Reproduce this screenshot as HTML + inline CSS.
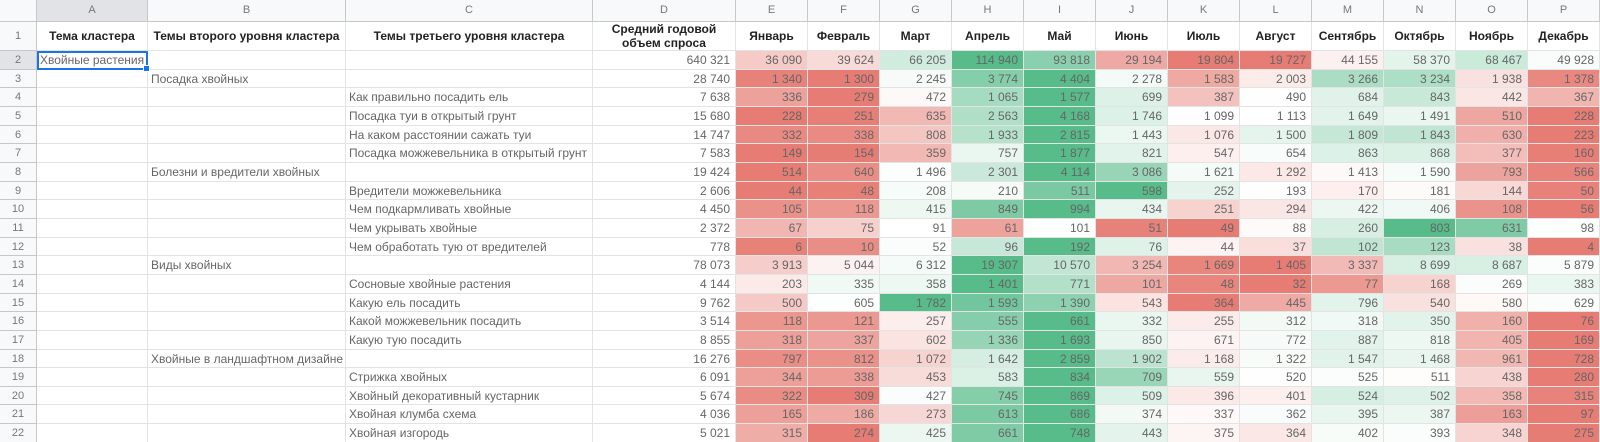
<!DOCTYPE html>
<html><head><meta charset="utf-8">
<style>
html,body{margin:0;padding:0;background:#fff;width:1600px;height:442px;overflow:hidden}
.g{display:grid;grid-template-columns:37px 111px 198px 247px 143px repeat(12,72px);grid-template-rows:22px 29px repeat(21,18.67px);font-family:"Liberation Sans","DejaVu Sans",sans-serif;font-size:12px;color:#666;position:relative}
.g>div{border-right:1px solid #e2e3e3;border-bottom:1px solid #e2e3e3;box-sizing:border-box;white-space:nowrap;overflow:hidden;line-height:18px;padding:0 3px}
.h{background:#f8f9fa;color:#777;text-align:center;font-size:11px;line-height:21px!important;border-color:#c7c7c7!important}
.r{background:#f8f9fa;color:#777;text-align:center;font-size:11px;border-color:#c7c7c7!important}
.t{font-weight:bold;color:#222;text-align:center;line-height:28px!important}
.t2{font-weight:bold;color:#222;text-align:center;line-height:14px!important;padding-top:0!important}
.n{text-align:right;padding-right:5px!important}
.sel{outline:2px solid #1a73e8;outline-offset:-2px;position:relative;overflow:visible!important}
.sel:after{content:"";position:absolute;right:-3px;bottom:-3px;width:5px;height:5px;background:#1a73e8;border:1px solid #fff}
</style></head><body>
<div class="g" id="g">
<div class="h"></div><div class="h" style="background:#e1e3e6">A</div><div class="h">B</div><div class="h">C</div><div class="h">D</div><div class="h">E</div><div class="h">F</div><div class="h">G</div><div class="h">H</div><div class="h">I</div><div class="h">J</div><div class="h">K</div><div class="h">L</div><div class="h">M</div><div class="h">N</div><div class="h">O</div><div class="h">P</div>
<div class="r" style="line-height:28px">1</div><div class="t">Тема кластера</div><div class="t">Темы второго уровня кластера</div><div class="t">Темы третьего уровня кластера</div><div class="t2">Средний годовой<br>объем спроса</div><div class="t">Январь</div><div class="t">Февраль</div><div class="t">Март</div><div class="t">Апрель</div><div class="t">Май</div><div class="t">Июнь</div><div class="t">Июль</div><div class="t">Август</div><div class="t">Сентябрь</div><div class="t">Октябрь</div><div class="t">Ноябрь</div><div class="t">Декабрь</div>
<div class="r" style="background:#e1e3e6">2</div><div class="sel">Хвойные растения</div><div></div><div></div><div class="n">640 321</div><div class="n m">36 090</div><div class="n m">39 624</div><div class="n m">66 205</div><div class="n m">114 940</div><div class="n m">93 818</div><div class="n m">29 194</div><div class="n m">19 804</div><div class="n m">19 727</div><div class="n m">44 155</div><div class="n m">58 370</div><div class="n m">68 467</div><div class="n m">49 928</div>
<div class="r">3</div><div></div><div>Посадка хвойных</div><div></div><div class="n">28 740</div><div class="n m">1 340</div><div class="n m">1 300</div><div class="n m">2 245</div><div class="n m">3 774</div><div class="n m">4 404</div><div class="n m">2 278</div><div class="n m">1 583</div><div class="n m">2 003</div><div class="n m">3 266</div><div class="n m">3 234</div><div class="n m">1 938</div><div class="n m">1 378</div>
<div class="r">4</div><div></div><div></div><div>Как правильно посадить ель</div><div class="n">7 638</div><div class="n m">336</div><div class="n m">279</div><div class="n m">472</div><div class="n m">1 065</div><div class="n m">1 577</div><div class="n m">699</div><div class="n m">387</div><div class="n m">490</div><div class="n m">684</div><div class="n m">843</div><div class="n m">442</div><div class="n m">367</div>
<div class="r">5</div><div></div><div></div><div>Посадка туи в открытый грунт</div><div class="n">15 680</div><div class="n m">228</div><div class="n m">251</div><div class="n m">635</div><div class="n m">2 563</div><div class="n m">4 168</div><div class="n m">1 746</div><div class="n m">1 099</div><div class="n m">1 113</div><div class="n m">1 649</div><div class="n m">1 491</div><div class="n m">510</div><div class="n m">228</div>
<div class="r">6</div><div></div><div></div><div>На каком расстоянии сажать туи</div><div class="n">14 747</div><div class="n m">332</div><div class="n m">338</div><div class="n m">808</div><div class="n m">1 933</div><div class="n m">2 815</div><div class="n m">1 443</div><div class="n m">1 076</div><div class="n m">1 500</div><div class="n m">1 809</div><div class="n m">1 843</div><div class="n m">630</div><div class="n m">223</div>
<div class="r">7</div><div></div><div></div><div>Посадка можжевельника в открытый грунт</div><div class="n">7 583</div><div class="n m">149</div><div class="n m">154</div><div class="n m">359</div><div class="n m">757</div><div class="n m">1 877</div><div class="n m">821</div><div class="n m">547</div><div class="n m">654</div><div class="n m">863</div><div class="n m">868</div><div class="n m">377</div><div class="n m">160</div>
<div class="r">8</div><div></div><div>Болезни и вредители хвойных</div><div></div><div class="n">19 424</div><div class="n m">514</div><div class="n m">640</div><div class="n m">1 496</div><div class="n m">2 301</div><div class="n m">4 114</div><div class="n m">3 086</div><div class="n m">1 621</div><div class="n m">1 292</div><div class="n m">1 413</div><div class="n m">1 590</div><div class="n m">793</div><div class="n m">566</div>
<div class="r">9</div><div></div><div></div><div>Вредители можжевельника</div><div class="n">2 606</div><div class="n m">44</div><div class="n m">48</div><div class="n m">208</div><div class="n m">210</div><div class="n m">511</div><div class="n m">598</div><div class="n m">252</div><div class="n m">193</div><div class="n m">170</div><div class="n m">181</div><div class="n m">144</div><div class="n m">50</div>
<div class="r">10</div><div></div><div></div><div>Чем подкармливать хвойные</div><div class="n">4 450</div><div class="n m">105</div><div class="n m">118</div><div class="n m">415</div><div class="n m">849</div><div class="n m">994</div><div class="n m">434</div><div class="n m">251</div><div class="n m">294</div><div class="n m">422</div><div class="n m">406</div><div class="n m">108</div><div class="n m">56</div>
<div class="r">11</div><div></div><div></div><div>Чем укрывать хвойные</div><div class="n">2 372</div><div class="n m">67</div><div class="n m">75</div><div class="n m">91</div><div class="n m">61</div><div class="n m">101</div><div class="n m">51</div><div class="n m">49</div><div class="n m">88</div><div class="n m">260</div><div class="n m">803</div><div class="n m">631</div><div class="n m">98</div>
<div class="r">12</div><div></div><div></div><div>Чем обработать тую от вредителей</div><div class="n">778</div><div class="n m">6</div><div class="n m">10</div><div class="n m">52</div><div class="n m">96</div><div class="n m">192</div><div class="n m">76</div><div class="n m">44</div><div class="n m">37</div><div class="n m">102</div><div class="n m">123</div><div class="n m">38</div><div class="n m">4</div>
<div class="r">13</div><div></div><div>Виды хвойных</div><div></div><div class="n">78 073</div><div class="n m">3 913</div><div class="n m">5 044</div><div class="n m">6 312</div><div class="n m">19 307</div><div class="n m">10 570</div><div class="n m">3 254</div><div class="n m">1 669</div><div class="n m">1 405</div><div class="n m">3 337</div><div class="n m">8 699</div><div class="n m">8 687</div><div class="n m">5 879</div>
<div class="r">14</div><div></div><div></div><div>Сосновые хвойные растения</div><div class="n">4 144</div><div class="n m">203</div><div class="n m">335</div><div class="n m">358</div><div class="n m">1 401</div><div class="n m">771</div><div class="n m">101</div><div class="n m">48</div><div class="n m">32</div><div class="n m">77</div><div class="n m">168</div><div class="n m">269</div><div class="n m">383</div>
<div class="r">15</div><div></div><div></div><div>Какую ель посадить</div><div class="n">9 762</div><div class="n m">500</div><div class="n m">605</div><div class="n m">1 782</div><div class="n m">1 593</div><div class="n m">1 390</div><div class="n m">543</div><div class="n m">364</div><div class="n m">445</div><div class="n m">796</div><div class="n m">540</div><div class="n m">580</div><div class="n m">629</div>
<div class="r">16</div><div></div><div></div><div>Какой можжевельник посадить</div><div class="n">3 514</div><div class="n m">118</div><div class="n m">121</div><div class="n m">257</div><div class="n m">555</div><div class="n m">661</div><div class="n m">332</div><div class="n m">255</div><div class="n m">312</div><div class="n m">318</div><div class="n m">350</div><div class="n m">160</div><div class="n m">76</div>
<div class="r">17</div><div></div><div></div><div>Какую тую посадить</div><div class="n">8 855</div><div class="n m">318</div><div class="n m">337</div><div class="n m">602</div><div class="n m">1 336</div><div class="n m">1 693</div><div class="n m">850</div><div class="n m">671</div><div class="n m">772</div><div class="n m">887</div><div class="n m">818</div><div class="n m">405</div><div class="n m">169</div>
<div class="r">18</div><div></div><div>Хвойные в ландшафтном дизайне</div><div></div><div class="n">16 276</div><div class="n m">797</div><div class="n m">812</div><div class="n m">1 072</div><div class="n m">1 642</div><div class="n m">2 859</div><div class="n m">1 902</div><div class="n m">1 168</div><div class="n m">1 322</div><div class="n m">1 547</div><div class="n m">1 468</div><div class="n m">961</div><div class="n m">728</div>
<div class="r">19</div><div></div><div></div><div>Стрижка хвойных</div><div class="n">6 091</div><div class="n m">344</div><div class="n m">338</div><div class="n m">453</div><div class="n m">583</div><div class="n m">834</div><div class="n m">709</div><div class="n m">559</div><div class="n m">520</div><div class="n m">525</div><div class="n m">511</div><div class="n m">438</div><div class="n m">280</div>
<div class="r">20</div><div></div><div></div><div>Хвойный декоративный кустарник</div><div class="n">5 674</div><div class="n m">322</div><div class="n m">309</div><div class="n m">427</div><div class="n m">745</div><div class="n m">869</div><div class="n m">509</div><div class="n m">396</div><div class="n m">401</div><div class="n m">524</div><div class="n m">502</div><div class="n m">358</div><div class="n m">315</div>
<div class="r">21</div><div></div><div></div><div>Хвойная клумба схема</div><div class="n">4 036</div><div class="n m">165</div><div class="n m">186</div><div class="n m">273</div><div class="n m">613</div><div class="n m">686</div><div class="n m">374</div><div class="n m">337</div><div class="n m">362</div><div class="n m">395</div><div class="n m">387</div><div class="n m">163</div><div class="n m">97</div>
<div class="r">22</div><div></div><div></div><div>Хвойная изгородь</div><div class="n">5 021</div><div class="n m">315</div><div class="n m">274</div><div class="n m">425</div><div class="n m">661</div><div class="n m">748</div><div class="n m">443</div><div class="n m">375</div><div class="n m">364</div><div class="n m">402</div><div class="n m">393</div><div class="n m">348</div><div class="n m">275</div>
</div>
<script>
(function(){
var cells=[].slice.call(document.querySelectorAll('.m'));
var R=[230,124,115],W=[255,255,255],G=[87,187,138];
function mix(a,b,t){return 'rgb('+a.map(function(v,i){return Math.round(v+(b[i]-v)*t)}).join(',')+')';}
for(var r=0;r<cells.length;r+=12){
  var row=cells.slice(r,r+12);
  var v=row.map(function(c){return parseFloat(c.textContent.replace(/\s/g,''))});
  var s=v.slice().sort(function(a,b){return a-b});
  var mn=s[0],mx=s[11],md=(s[5]+s[6])/2;
  row.forEach(function(c,i){
    var x=v[i],col;
    if(x<=md){col=mix(R,W,md===mn?1:(x-mn)/(md-mn));}
    else{col=mix(W,G,mx===md?0:(x-md)/(mx-md));}
    c.style.background=col;
  });
}
})();
</script>
</body></html>
